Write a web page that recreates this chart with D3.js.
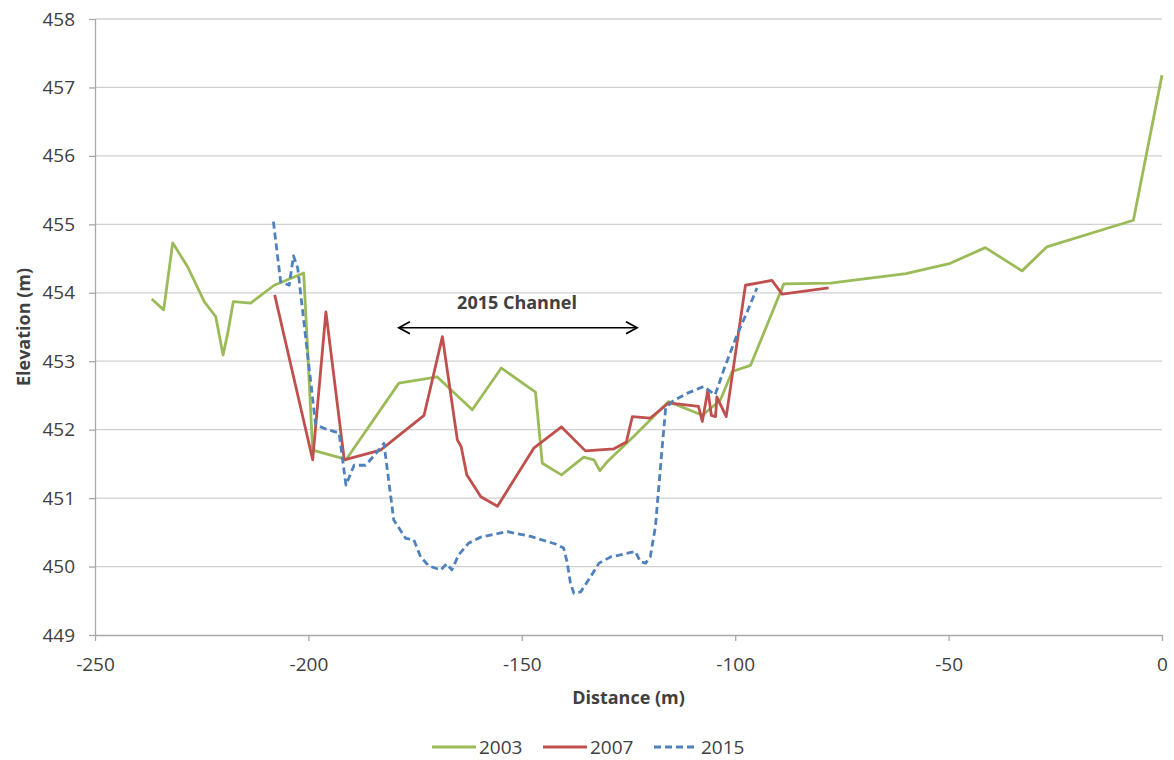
<!DOCTYPE html>
<html><head><meta charset="utf-8">
<script src="https://cdn.jsdelivr.net/npm/d3@7"></script>
<style>
body{margin:0;background:#fff;}
text{font-family:"Open Sans",Carlito,Lato,sans-serif;fill:#404040;}
</style></head>
<body><svg id="c" width="1174" height="760"></svg>
<script>
// Data (distance m, elevation m)
const dist2003 = [-236.7,-233.9,-231.8,-228.3,-224.4,-221.7,-220.0,-218.9,-217.6,-213.5,-208.0,-204.9,-201.1,-199.0,-192.0,-191.2,-178.8,-169.8,-161.6,-154.8,-146.8,-145.2,-140.7,-135.5,-133.1,-131.7,-130.0,-123.8,-115.6,-107.7,-103.5,-100.7,-96.4,-88.6,-77.7,-60.0,-49.6,-41.4,-32.8,-27.0,-6.7,0];
const elev2003 = [453.91,453.75,454.73,454.38,453.87,453.65,453.09,453.41,453.87,453.85,454.11,454.19,454.29,451.70,451.58,451.56,452.68,452.77,452.29,452.90,452.55,451.51,451.34,451.60,451.56,451.40,451.53,451.90,452.41,452.21,452.43,452.85,452.94,454.13,454.14,454.28,454.43,454.66,454.32,454.67,455.06,457.18];
const dist2007 = [-207.9,-199.0,-195.9,-191.6,-183.1,-172.9,-168.6,-165.1,-164.2,-162.9,-159.6,-155.7,-147.2,-140.7,-135.1,-128.4,-125.5,-124.1,-119.9,-115.6,-108.6,-107.7,-106.4,-105.6,-104.6,-104.3,-102.1,-97.6,-91.4,-89.0,-78.1];
const elev2007 = [453.97,451.56,453.72,451.56,451.70,452.21,453.36,451.85,451.75,451.34,451.02,450.88,451.73,452.04,451.69,451.72,451.82,452.19,452.17,452.39,452.34,452.12,452.58,452.21,452.19,452.48,452.19,454.11,454.18,453.98,454.07];
const dist2015 = [-208.2,-206.5,-204.5,-203.5,-202.5,-198.3,-195.5,-192.8,-191.2,-189.3,-186.6,-184.2,-182.3,-180.7,-180.0,-177.2,-175.3,-173.7,-171.8,-169.0,-167.6,-166.4,-164.8,-162.5,-159.6,-153.4,-147.9,-142.1,-140.2,-139.4,-138.6,-137.8,-136.2,-133.9,-131.9,-129.2,-123.4,-122.2,-121.0,-119.9,-118.7,-117.1,-116.3,-114.8,-111.3,-107.4,-104.7,-102.7,-99.6,-97.2,-94.9];
const elev2015 = [455.04,454.16,454.11,454.54,454.36,452.07,452.00,451.95,451.19,451.48,451.48,451.65,451.80,451.02,450.68,450.41,450.39,450.14,450.01,449.95,450.04,449.95,450.17,450.34,450.43,450.51,450.44,450.33,450.27,450.07,449.76,449.61,449.63,449.85,450.05,450.14,450.22,450.07,450.05,450.14,450.58,451.75,452.31,452.41,452.53,452.63,452.51,452.87,453.38,453.72,454.07];
const seriesNames = ["2003","2007","2015"];
const xTicks = [-250,-200,-150,-100,-50,0];
const yTicks = [449,450,451,452,453,454,455,456,457,458];
const annotationText = "2015 Channel";
const annotationRange = [-178.8,-123.0];
const annotationElev = 453.49;

const svg = d3.select("#c");
const L=95, R=1162, T=19, B=635;
const x = d3.scaleLinear().domain([-250,0]).range([L,R]);
const y = d3.scaleLinear().domain([449,458]).range([B,T]);

// gridlines
svg.append("g").selectAll("line").data(yTicks.filter(d=>d!==449)).join("line")
  .attr("x1",L).attr("x2",R).attr("y1",d=>y(d)).attr("y2",d=>y(d))
  .attr("stroke","#d0d0d0").attr("stroke-width",1.3);

// axes
const yAxis = svg.append("g").attr("transform",`translate(${L},0)`)
  .call(d3.axisLeft(y).tickValues(yTicks).tickSize(6).tickPadding(14).tickFormat(d3.format("d")));
const xAxis = svg.append("g").attr("transform",`translate(0,${B})`)
  .call(d3.axisBottom(x).tickValues(xTicks).tickSize(6).tickPadding(17).tickFormat(d=>d===0?"0":String(d).replace("\u2212","-")));
[yAxis,xAxis].forEach(a=>{
  a.select(".domain").attr("stroke","#a8a8a8").attr("stroke-width",1.3);
  a.selectAll(".tick line").attr("stroke","#a8a8a8").attr("stroke-width",1.3);
  a.selectAll("text").style("font-size","19px").attr("fill","#404040");
});
xAxis.selectAll(".domain").attr("d",`M${L},0.5H${R}`);
yAxis.selectAll(".domain").attr("d",`M0.5,${T}V${B}`);

// lines
const colors = ["#9bbb59","#c0504d","#4f81bd"];
const data = [
  dist2003.map((d,i)=>[d,elev2003[i]]),
  dist2007.map((d,i)=>[d,elev2007[i]]),
  dist2015.map((d,i)=>[d,elev2015[i]])
];
const line = d3.line().x(d=>x(d[0])).y(d=>y(d[1]));
data.forEach((s,i)=>{
  svg.append("path").datum(s).attr("d",line).attr("fill","none")
    .attr("stroke",colors[i]).attr("stroke-width",2.8).attr("stroke-linejoin","round")
    .attr("stroke-dasharray",i===2?"7,4":null);
});

// annotation
const ay = y(annotationElev);
const ax1 = x(annotationRange[0]), ax2 = x(annotationRange[1]);
svg.append("line").attr("x1",ax1).attr("x2",ax2).attr("y1",ay).attr("y2",ay).attr("stroke","#000").attr("stroke-width",1.6);
svg.append("path").attr("d",`M${ax1+11},${ay-6}L${ax1},${ay}L${ax1+11},${ay+6}`).attr("fill","none").attr("stroke","#000").attr("stroke-width",1.8);
svg.append("path").attr("d",`M${ax2-11},${ay-6}L${ax2},${ay}L${ax2-11},${ay+6}`).attr("fill","none").attr("stroke","#000").attr("stroke-width",1.8);
svg.append("text").attr("x",517).attr("y",ay-19).attr("text-anchor","middle")
  .style("font-size","18px").style("font-weight","bold").attr("fill","#000").text(annotationText);

// axis titles
svg.append("text").attr("x",(L+R)/2).attr("y",704).attr("text-anchor","middle")
  .style("font-size","18px").style("font-weight","bold").attr("fill","#000").text("Distance (m)");
svg.append("text").attr("transform",`translate(30,${(T+B)/2}) rotate(-90)`).attr("text-anchor","middle")
  .style("font-size","18px").style("font-weight","bold").attr("fill","#000").text("Elevation (m)");

// legend
const lx = [432,543,654];
seriesNames.forEach((n,i)=>{
  const g = svg.append("g");
  g.append("line").attr("x1",lx[i]).attr("x2",lx[i]+44).attr("y1",747).attr("y2",747)
    .attr("stroke",colors[i]).attr("stroke-width",2.8).attr("stroke-dasharray",i===2?"7,4":null);
  g.append("text").attr("x",lx[i]+47).attr("y",754).style("font-size","19px").attr("fill","#404040").text(n);
});
</script></body></html>
